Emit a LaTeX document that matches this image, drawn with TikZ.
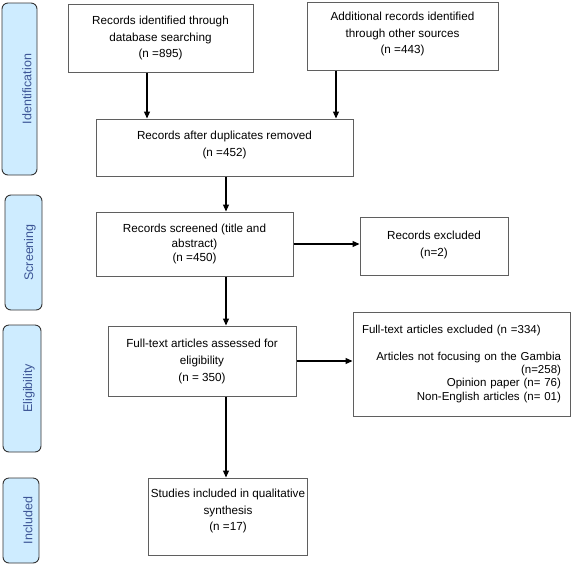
\documentclass[tikz,border=0pt]{standalone}
\usepackage{fontspec}
\setmainfont{Liberation Sans}
\usetikzlibrary{arrows.meta,calc}
\definecolor{sidefill}{RGB}{206,236,255}
\definecolor{sidetext}{RGB}{60,85,150}
\definecolor{boxline}{RGB}{95,95,95}
\newcommand{\lowpad}[1]{\rule[-#1]{0pt}{0pt}}
\begin{document}
\begin{tikzpicture}[x=1pt,y=-1pt,
  box/.style={draw=boxline,line width=1pt,fill=white,inner sep=2pt,align=center,
    font=\fontsize{11.7}{16.5}\selectfont,anchor=center},
  sidebox/.style={draw=black!80,line width=0.9pt,fill=sidefill,rounded corners=6pt,anchor=center},
  sidelabel/.style={rotate=90,text=sidetext,font=\fontsize{12.5}{14}\selectfont,anchor=center},
  arr/.style={line width=1.2pt,-{Triangle[length=7pt,width=6pt]}}]
\useasboundingbox (0,0) rectangle (571,566);
% side boxes
\node[sidebox,minimum width=35pt,minimum height=172pt] (s1) at (19.5,89) {};
\node[sidebox,minimum width=37pt,minimum height=115pt] (s2) at (23.5,252.5) {};
\node[sidebox,minimum width=38pt,minimum height=127pt] (s3) at (22,388.5) {};
\node[sidebox,minimum width=36pt,minimum height=85pt] (s4) at (21,520.5) {};
\node[sidelabel] (l1) at (27,89) {Identification};
\node[sidelabel] (l2) at (30,252.5) {Screening};
\node[sidelabel] (l3) at (29,388.5) {Eligibility};
\node[sidelabel] (l4) at (28,520.5) {Included};
% main boxes
\node[box,minimum width=185pt,minimum height=68pt] (b1) at (160.5,38)
  {Records identified through\\database searching\\(n =895)};
\node[box,minimum width=191pt,minimum height=68pt] (b2) at (402.5,36)
  {Additional records identified\\through other sources\\(n =443)\lowpad{6pt}};
\node[box,minimum width=257pt,minimum height=57pt] (b3) at (224.5,147.5)
  {Records after duplicates removed\\(n =452)\lowpad{7pt}};
\node[box,minimum width=197pt,minimum height=64pt,font=\fontsize{11.7}{14.5}\selectfont] (b4) at (194.5,244)
  {Records screened (title and\\abstract)\\(n =450)};
\node[box,minimum width=148pt,minimum height=58pt,font=\fontsize{11.7}{17}\selectfont] (b5) at (434,246)
  {Records excluded\\(n=2)\lowpad{4pt}};
\node[box,minimum width=188pt,minimum height=70pt,font=\fontsize{11.7}{17}\selectfont] (b6) at (202,361)
  {Full-text articles assessed for\\eligibility\\(n = 350)};
\node[box,minimum width=217pt,minimum height=104pt,text width=199pt,inner xsep=9pt,align=left,
  font=\fontsize{11.5}{13.3}\selectfont] (b7) at (461.5,364)
  {{\raggedright Full-text articles excluded (n =334)\par}\vspace{13pt}%
   {\raggedleft Articles not focusing on the Gambia\\(n=258)\\Opinion paper (n= 76)\\Non-English articles (n= 01)\par}};
\node[box,minimum width=150pt,minimum height=77pt] (b8) at (228,516.5)
  {Studies included in qualitative\\synthesis\\(n =17)\lowpad{13pt}};
% arrow x positions
\coordinate (xa) at (147,0);
\coordinate (xb) at (336,0);
\coordinate (xc) at (226,0);
% connectors
\draw[arr] (b1.south -| xa) -- (b3.north -| xa);
\draw[arr] (b2.south -| xb) -- (b3.north -| xb);
\draw[arr] (b3.south -| xc) -- (b4.north -| xc);
\draw[arr] (b4.south -| xc) -- (b6.north -| xc);
\draw[arr] (b6.south -| xc) -- (b8.north -| xc);
\draw[arr] (b4.east) -- (b4.east -| b5.west);
\draw[arr] (b6.east) -- (b6.east -| b7.west);
\end{tikzpicture}
\end{document}
